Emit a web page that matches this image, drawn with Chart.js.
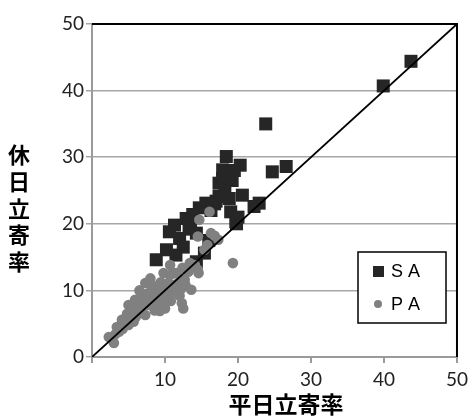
<!DOCTYPE html>
<html>
<head>
<meta charset="utf-8">
<script src="https://cdn.jsdelivr.net/npm/chart.js@4"></script>
<style>
  body { margin: 0; background: #fff; }
  canvas { display: block; }
</style>
</head>
<body>
<canvas id="rateChart" width="473" height="416"></canvas>
<script>
// weekday rate (x) vs holiday rate (y), percent
const saPoints = [
  [43.7, 44.4], [39.9, 40.7], [23.8, 35.0], [26.6, 28.6], [24.7, 27.8],
  [22.9, 23.1], [22.2, 22.6], [20.6, 24.3], [19.7, 20.3], [19.0, 21.8],
  [20.3, 28.8], [18.4, 30.1], [17.9, 28.1], [18.6, 27.2], [19.2, 26.5],
  [17.4, 26.1], [18.2, 25.2], [17.4, 24.1], [18.8, 23.8], [17.0, 23.4],
  [15.6, 23.1], [14.7, 22.4], [16.3, 22.0], [12.9, 20.8], [11.3, 19.8],
  [13.5, 20.1], [10.6, 18.8], [12.0, 17.8], [14.3, 18.6], [13.3, 19.2],
  [10.2, 16.1], [11.5, 15.3], [8.8, 14.6], [15.4, 15.6], [14.3, 14.3],
  [16.0, 17.5], [12.5, 16.5], [19.8, 20.0], [20.0, 21.0], [17.9, 26.8],
  [16.8, 23.0], [13.8, 21.4], [19.5, 28.0]
];

const paPoints = [
  [2.3, 3.0], [3.0, 2.1], [2.7, 2.8], [3.7, 3.8], [3.4, 4.5], [4.1, 5.6],
  [4.6, 5.8], [4.2, 4.2], [5.0, 4.8], [5.7, 5.3], [5.0, 7.8], [5.5, 7.8],
  [5.9, 8.6], [6.4, 6.6], [6.0, 7.2], [6.8, 8.8], [7.3, 6.3], [7.3, 11.1],
  [7.8, 7.8], [7.5, 9.5], [8.2, 10.3], [8.3, 8.5], [8.6, 7.0], [9.1, 9.8],
  [9.3, 6.9], [9.0, 8.4], [9.6, 10.2], [10.0, 10.6], [10.5, 8.8], [10.0, 7.3],
  [9.8, 9.4], [10.4, 11.1], [10.9, 9.6], [11.4, 9.8], [11.8, 11.1], [12.3, 8.1],
  [12.5, 7.3], [12.2, 10.2], [12.7, 11.6], [13.6, 10.1], [10.7, 12.3], [10.7, 13.8],
  [11.6, 12.6], [9.8, 12.6], [11.3, 12.6], [14.1, 13.8], [14.6, 12.6], [13.4, 14.1],
  [14.5, 13.1], [15.4, 16.1], [15.8, 16.8], [14.5, 18.1], [16.3, 18.6], [17.3, 17.6],
  [16.8, 18.2], [14.7, 20.6], [16.1, 21.8], [19.3, 14.1], [8.0, 11.8], [6.5, 10.0],
  [7.0, 8.0], [8.8, 9.0], [11.2, 10.8], [12.0, 9.2], [4.8, 6.5], [5.3, 6.2],
  [6.2, 8.0], [6.8, 7.4], [7.6, 8.8], [8.0, 9.6], [8.8, 10.6], [9.4, 11.2],
  [8.4, 7.8], [9.6, 8.2], [10.2, 9.9], [11.0, 10.2], [11.6, 10.4], [10.8, 8.4],
  [12.8, 10.8], [13.2, 12.8], [12.4, 13.4], [3.2, 3.4], [4.0, 4.8], [6.0, 6.0]
];

const equalLine = [[0, 0], [50, 50]];
const seriesNames = ['S A', 'P A'];
const xTitle = '平日立寄率';
const yTitle = '休日立寄率';

const toXY = arr => arr.map(p => ({ x: p[0], y: p[1] }));

const tickFont = { family: 'Lato', size: 19 };
const titleFont = '"Noto Sans CJK JP"';

// frame, axis titles and boxed legend
const decorations = {
  id: 'decorations',
  afterDraw(chart) {
    const { ctx, chartArea: a } = chart;
    ctx.save();

    // black top/right border
    ctx.strokeStyle = '#000';
    ctx.lineWidth = 2;
    ctx.beginPath();
    ctx.moveTo(a.left, a.top);
    ctx.lineTo(a.right, a.top);
    ctx.lineTo(a.right, a.bottom);
    ctx.stroke();

    // titles
    ctx.fillStyle = '#000';
    ctx.font = 'bold 23px ' + titleFont;
    ctx.textAlign = 'center';
    ctx.textBaseline = 'middle';
    ctx.fillText(xTitle, 286, 404);
    ctx.font = 'bold 22px ' + titleFont;
    [...yTitle].forEach((ch, i) => ctx.fillText(ch, 19, 155 + i * 26.7));

    // legend
    const lx = 358, ly = 252, lw = 88, lh = 71;
    ctx.fillStyle = '#fff';
    ctx.fillRect(lx, ly, lw, lh);
    ctx.strokeStyle = '#000';
    ctx.lineWidth = 1.5;
    ctx.strokeRect(lx, ly, lw, lh);

    ctx.fillStyle = '#262626';
    ctx.fillRect(373, 266, 11, 11);
    ctx.fillStyle = '#808080';
    ctx.beginPath();
    ctx.arc(378, 304, 4, 0, Math.PI * 2);
    ctx.fill();

    ctx.fillStyle = '#000';
    ctx.font = '18px "Liberation Sans"';
    ctx.textAlign = 'left';
    ctx.fillText(seriesNames[0], 391, 272);
    ctx.fillText(seriesNames[1], 391, 305);
    ctx.restore();
  }
};

new Chart(document.getElementById('rateChart'), {
  type: 'scatter',
  data: {
    datasets: [
      {
        type: 'line',
        data: toXY(equalLine),
        borderColor: '#000',
        borderWidth: 1.8,
        pointRadius: 0,
        fill: false
      },
      {
        label: seriesNames[1],
        data: toXY(paPoints),
        pointStyle: 'circle',
        pointRadius: 5.3,
        backgroundColor: '#808080',
        borderColor: '#808080',
        borderWidth: 0
      },
      {
        label: seriesNames[0],
        data: toXY(saPoints),
        pointStyle: 'rect',
        pointRadius: 9.2,
        backgroundColor: '#262626',
        borderColor: '#262626',
        borderWidth: 0
      }
    ]
  },
  options: {
    responsive: false,
    animation: false,
    layout: { padding: { top: 24, right: 14, bottom: 0, left: 0 } },
    plugins: {
      legend: { display: false },
      tooltip: { enabled: false }
    },
    scales: {
      x: {
        type: 'linear',
        min: 0,
        max: 50,
        afterFit: s => { s.height = 59; },
        ticks: {
          stepSize: 10,
          color: '#222',
          font: tickFont,
          padding: 5,
          callback: v => (v === 0 ? '' : v)
        },
        grid: { drawOnChartArea: false, color: '#9a9a9a', lineWidth: 2, tickLength: 6 },
        border: { color: '#9a9a9a', width: 2 }
      },
      y: {
        min: 0,
        max: 50,
        afterFit: s => { s.width = 92; },
        ticks: { stepSize: 10, color: '#222', font: tickFont, padding: 2 },
        grid: { color: '#a6a6a6', lineWidth: 1.5, tickLength: 6 },
        border: { color: '#9a9a9a', width: 2 }
      }
    }
  },
  plugins: [decorations]
});
</script>
</body>
</html>
